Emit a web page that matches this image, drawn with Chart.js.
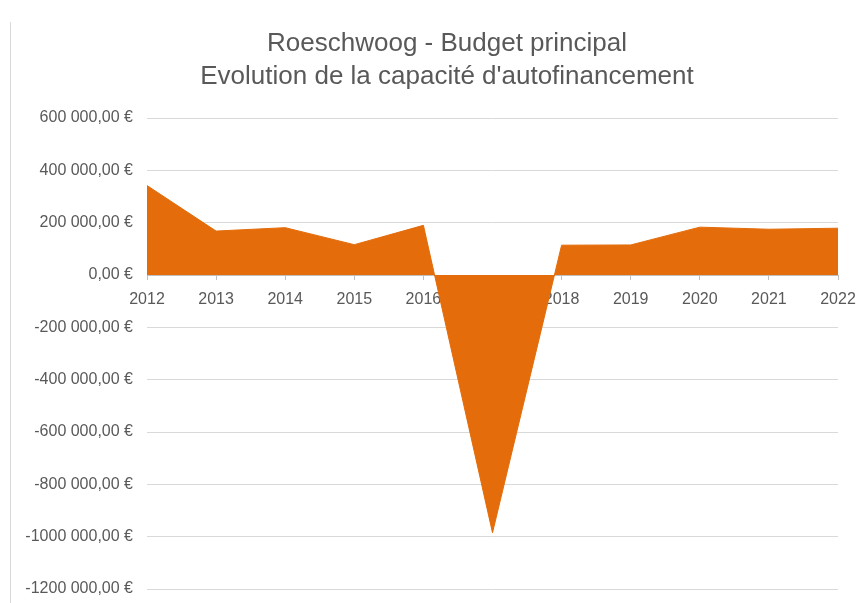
<!DOCTYPE html>
<html>
<head>
<meta charset="utf-8">
<script src="https://cdn.jsdelivr.net/npm/chart.js@4/dist/chart.umd.min.js"></script>
<style>
  html,body{margin:0;padding:0;background:#fff;}
  #wrap{position:relative;width:867px;height:603px;}
  #frame{position:absolute;left:10px;top:22px;bottom:0;width:1px;background:#d9d9d9;}
</style>
</head>
<body>
<div id="wrap">
  <div id="frame"></div>
  <canvas id="chart"></canvas>
</div>
<script>
// ---------- Daten ----------
const years = ['2012','2013','2014','2015','2016','2017','2018','2019','2020','2021','2022'];
const caf = [342000, 168000, 181000, 116000, 190000, -985000, 114000, 115000, 183000, 175000, 179000];
const yTicks = [600000, 400000, 200000, 0, -200000, -400000, -600000, -800000, -1000000, -1200000];
const yTickLabels = ['600 000,00 €','400 000,00 €','200 000,00 €','0,00 €','-200 000,00 €','-400 000,00 €',
  '-600 000,00 €','-800 000,00 €','-1000 000,00 €','-1200 000,00 €'];
const titleLines = ['Roeschwoog - Budget principal', "Evolution de la capacité d'autofinancement"];

const ORANGE = '#E46C0A';
const TXT = '#595959';
const FONT = 'Liberation Sans, Arial, sans-serif';

// Titel etwas nach rechts (wie im Excel-Original)
const titleShift = {id: 'titleShift', afterLayout(c){ if (c.titleBlock) c.titleBlock.left += 56; }};

new Chart(document.getElementById('chart').getContext('2d'), {
  type: 'line',
  data: {
    labels: years,
    datasets: [{
      data: caf,
      fill: 'origin',
      backgroundColor: ORANGE,
      borderColor: ORANGE,
      borderWidth: 1,
      pointRadius: 0,
      tension: 0
    }]
  },
  options: {
    responsive: true,
    maintainAspectRatio: false,
    animation: false,
    layout: {padding: {left: 0, right: 29, bottom: 14, top: 0}},
    plugins: {
      legend: {display: false},
      tooltip: {enabled: false},
      title: {
        display: true,
        text: titleLines,
        color: TXT,
        font: {family: FONT, size: 26, weight: 'normal', lineHeight: 1.27},
        padding: {top: 27, bottom: 25}
      }
    },
    scales: {
      x: {
        position: {y: 0},
        offset: false,
        grid: {drawOnChartArea: false, drawTicks: true, tickLength: 4, color: '#bfbfbf'},
        border: {display: true, color: '#bfbfbf'},
        ticks: {color: TXT, font: {family: FONT, size: 16}, padding: 11, maxRotation: 0, autoSkip: false}
      },
      y: {
        min: -1200000,
        max: 600000,
        afterBuildTicks: s => { s.ticks = yTicks.map(v => ({value: v})); },
        afterFit: s => { s.width = 147; },
        grid: {color: '#d9d9d9', drawTicks: true, tickLength: 14, tickColor: 'rgba(0,0,0,0)'},
        border: {display: false},
        ticks: {
          color: TXT,
          font: {family: FONT, size: 16},
          padding: 0,
          callback: v => yTickLabels[yTicks.indexOf(v)]
        }
      }
    }
  },
  plugins: [titleShift]
});
</script>
</body>
</html>
